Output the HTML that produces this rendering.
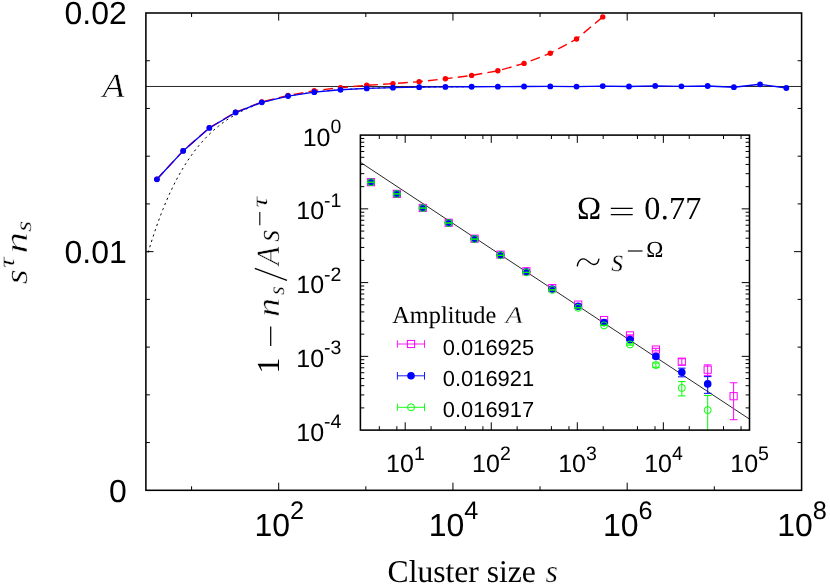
<!DOCTYPE html>
<html><head><meta charset="utf-8"><title>Chart</title>
<style>html,body{margin:0;padding:0;background:#fff;}body{width:830px;height:586px;position:relative;overflow:hidden;font-family:"Liberation Sans",sans-serif;}</style>
</head><body>
<svg width="830" height="586" viewBox="0 0 830 586" style="position:absolute;left:0;top:0;will-change:transform;text-rendering:geometricPrecision">
<defs><clipPath id="cm"><rect x="145.9" y="13.0" width="655.7" height="477.3"/></clipPath>
<clipPath id="ci"><rect x="360.4" y="135.1" width="389.1" height="295.0"/></clipPath></defs>
<rect x="0" y="0" width="830" height="586" fill="#fff"/>
<line x1="145.9" y1="86.48" x2="801.6" y2="86.48" stroke="#000" stroke-width="0.85"/>
<polyline points="148.11,252.58 149.75,247.15 151.38,241.90 153.01,236.82 154.65,231.90 156.28,227.15 157.91,222.55 159.55,218.10 161.18,213.80 162.81,209.64 164.44,205.61 166.08,201.71 167.71,197.95 169.34,194.30 170.98,190.78 172.61,187.37 174.24,184.07 175.88,180.88 177.51,177.79 179.14,174.81 180.78,171.92 182.41,169.13 184.04,166.43 185.68,163.81 187.31,161.28 188.94,158.84 190.58,156.47 192.21,154.18 193.84,151.97 195.48,149.83 197.11,147.76 198.74,145.76 200.38,143.82 202.01,141.94 203.64,140.13 205.28,138.38 206.91,136.68 208.54,135.04 210.18,133.45 211.81,131.92 213.44,130.43 215.08,128.99 216.71,127.60 218.34,126.26 219.98,124.96 221.61,123.70 223.24,122.48 224.88,121.31 226.51,120.17 228.14,119.07 229.78,118.00 231.41,116.97 233.04,115.97 234.68,115.01 236.31,114.08 237.94,113.17 239.58,112.30 241.21,111.46 242.84,110.64 244.48,109.85 246.11,109.09 247.74,108.35 249.37,107.63 251.01,106.94 252.64,106.27 254.27,105.63 255.91,105.00 257.54,104.39 259.17,103.81 260.81,103.24 262.44,102.69 264.07,102.16 265.71,101.65 267.34,101.16 268.97,100.68 270.61,100.21 272.24,99.76 273.87,99.33 275.51,98.91 277.14,98.50 278.77,98.11 280.41,97.73 282.04,97.36 283.67,97.01 285.31,96.66 286.94,96.33 288.57,96.01 290.21,95.70 291.84,95.39 293.47,95.10 295.11,94.82 296.74,94.55 298.37,94.28 300.01,94.03 301.64,93.78 303.27,93.54 304.91,93.31 306.54,93.09 308.17,92.87 309.81,92.66 311.44,92.46 313.07,92.27 314.71,92.08 316.34,91.89 317.97,91.72 319.61,91.55 321.24,91.38 322.87,91.22 324.51,91.07 326.14,90.92 327.77,90.77 329.41,90.63 331.04,90.49 332.67,90.36 334.30,90.24 335.94,90.11 337.57,89.99 339.20,89.88 340.84,89.77 342.47,89.66 344.10,89.56 345.74,89.46 347.37,89.36 349.00,89.27 350.64,89.17 352.27,89.09 353.90,89.00 355.54,88.92 357.17,88.84 358.80,88.76 360.44,88.69 362.07,88.61 363.70,88.55 365.34,88.48 366.97,88.41 368.60,88.35 370.24,88.29 371.87,88.23 373.50,88.17 375.14,88.12 376.77,88.06 378.40,88.01 380.04,87.96 381.67,87.91 383.30,87.87 384.94,87.82 386.57,87.78 388.20,87.73 389.84,87.69 391.47,87.65 393.10,87.62 394.74,87.58 396.37,87.54 398.00,87.51 399.64,87.47 401.27,87.44 402.90,87.41 404.54,87.38 406.17,87.35 407.80,87.32 409.44,87.29 411.07,87.27 412.70,87.24 414.34,87.22 415.97,87.19 417.60,87.17 419.23,87.15 420.87,87.13 422.50,87.10 424.13,87.08 425.77,87.06 427.40,87.05 429.03,87.03 430.67,87.01 432.30,86.99 433.93,86.97 435.57,86.96 437.20,86.94 438.83,86.93 440.47,86.91 442.10,86.90 443.73,86.89 445.37,86.87 447.00,86.86 448.63,86.85 450.27,86.83 451.90,86.82 453.53,86.81 455.17,86.80 456.80,86.79 458.43,86.78 460.07,86.77 461.70,86.76 463.33,86.75 464.97,86.74 466.60,86.73 468.23,86.73 469.87,86.72 471.50,86.71 473.13,86.70 474.77,86.70" fill="none" stroke="#000" stroke-width="1" stroke-dasharray="2.2,3.4" clip-path="url(#cm)"/>
<polyline points="156.91,179.18 183.14,150.78 209.36,127.80 235.59,112.27 261.81,101.93 288.04,95.49 314.27,90.60 340.49,87.70 366.72,85.30 392.94,83.60 419.17,81.70 445.39,78.80 471.62,75.40 497.85,70.80 524.07,63.40 550.30,53.30 576.52,39.00 602.75,16.90" fill="none" stroke="#f00" stroke-width="1.4" stroke-dasharray="9.8,5.2" clip-path="url(#cm)"/>
<circle cx="156.91" cy="179.18" r="2.7" fill="#f00"/>
<circle cx="183.14" cy="150.78" r="2.7" fill="#f00"/>
<circle cx="209.36" cy="127.80" r="2.7" fill="#f00"/>
<circle cx="235.59" cy="112.27" r="2.7" fill="#f00"/>
<circle cx="261.81" cy="101.93" r="2.7" fill="#f00"/>
<circle cx="288.04" cy="95.49" r="2.7" fill="#f00"/>
<circle cx="314.27" cy="90.60" r="2.7" fill="#f00"/>
<circle cx="340.49" cy="87.70" r="2.7" fill="#f00"/>
<circle cx="366.72" cy="85.30" r="2.7" fill="#f00"/>
<circle cx="392.94" cy="83.60" r="2.7" fill="#f00"/>
<circle cx="419.17" cy="81.70" r="2.7" fill="#f00"/>
<circle cx="445.39" cy="78.80" r="2.7" fill="#f00"/>
<circle cx="471.62" cy="75.40" r="2.7" fill="#f00"/>
<circle cx="497.85" cy="70.80" r="2.7" fill="#f00"/>
<circle cx="524.07" cy="63.40" r="2.7" fill="#f00"/>
<circle cx="550.30" cy="53.30" r="2.7" fill="#f00"/>
<circle cx="576.52" cy="39.00" r="2.7" fill="#f00"/>
<circle cx="602.75" cy="16.90" r="2.7" fill="#f00"/>
<polyline points="156.91,179.28 183.14,150.88 209.36,127.95 235.59,112.52 261.81,102.28 288.04,96.04 314.27,92.14 340.49,89.79 366.72,88.41 392.94,87.64 419.17,87.16 445.39,86.88 471.62,86.73 497.85,86.65 524.07,86.50 550.30,86.40 576.52,86.60 602.75,86.10 628.97,86.50 655.20,85.90 681.43,86.30 707.65,86.00 733.88,87.20 760.10,84.30 786.33,88.00" fill="none" stroke="#00f" stroke-width="1.35"/>
<circle cx="156.91" cy="179.28" r="2.9" fill="#00f"/>
<circle cx="183.14" cy="150.88" r="2.9" fill="#00f"/>
<circle cx="209.36" cy="127.95" r="2.9" fill="#00f"/>
<circle cx="235.59" cy="112.52" r="2.9" fill="#00f"/>
<circle cx="261.81" cy="102.28" r="2.9" fill="#00f"/>
<circle cx="288.04" cy="96.04" r="2.9" fill="#00f"/>
<circle cx="314.27" cy="92.14" r="2.9" fill="#00f"/>
<circle cx="340.49" cy="89.79" r="2.9" fill="#00f"/>
<circle cx="366.72" cy="88.41" r="2.9" fill="#00f"/>
<circle cx="392.94" cy="87.64" r="2.9" fill="#00f"/>
<circle cx="419.17" cy="87.16" r="2.9" fill="#00f"/>
<circle cx="445.39" cy="86.88" r="2.9" fill="#00f"/>
<circle cx="471.62" cy="86.73" r="2.9" fill="#00f"/>
<circle cx="497.85" cy="86.65" r="2.9" fill="#00f"/>
<circle cx="524.07" cy="86.50" r="2.9" fill="#00f"/>
<circle cx="550.30" cy="86.40" r="2.9" fill="#00f"/>
<circle cx="576.52" cy="86.60" r="2.9" fill="#00f"/>
<circle cx="602.75" cy="86.10" r="2.9" fill="#00f"/>
<circle cx="628.97" cy="86.50" r="2.9" fill="#00f"/>
<circle cx="655.20" cy="85.90" r="2.9" fill="#00f"/>
<circle cx="681.43" cy="86.30" r="2.9" fill="#00f"/>
<circle cx="707.65" cy="86.00" r="2.9" fill="#00f"/>
<circle cx="733.88" cy="87.20" r="2.9" fill="#00f"/>
<circle cx="760.10" cy="84.30" r="2.9" fill="#00f"/>
<circle cx="786.33" cy="88.00" r="2.9" fill="#00f"/>
<path d="M191.58 490.30v-4.00M191.58 13.00v4.00M278.70 490.30v-7.60M278.70 13.00v7.60M365.82 490.30v-4.00M365.82 13.00v4.00M452.94 490.30v-7.60M452.94 13.00v7.60M540.06 490.30v-4.00M540.06 13.00v4.00M627.18 490.30v-7.60M627.18 13.00v7.60M714.30 490.30v-4.00M714.30 13.00v4.00M145.90 442.57h4.00M801.60 442.57h-4.00M145.90 394.84h4.00M801.60 394.84h-4.00M145.90 347.11h4.00M801.60 347.11h-4.00M145.90 299.38h4.00M801.60 299.38h-4.00M145.90 251.65h7.60M801.60 251.65h-7.60M145.90 203.92h4.00M801.60 203.92h-4.00M145.90 156.19h4.00M801.60 156.19h-4.00M145.90 108.46h4.00M801.60 108.46h-4.00M145.90 60.73h4.00M801.60 60.73h-4.00" stroke="#000" stroke-width="1.0" fill="none"/>
<rect x="145.90" y="13.00" width="655.70" height="477.30" fill="none" stroke="#000" stroke-width="1.55"/>
<rect x="360.40" y="135.10" width="389.10" height="295.00" fill="#fff"/>
<line x1="360.21" y1="162.19" x2="749.40" y2="419.04" stroke="#000" stroke-width="0.85" clip-path="url(#ci)"/>
<g clip-path="url(#ci)" stroke="#ff00ff" stroke-width="1" fill="none"><path d="M370.96 182.17V182.17M367.16 182.17h7.6M367.16 182.17h7.6"/></g>
<rect x="367.36" y="178.57" width="7.2" height="7.2" fill="none" stroke="#ff00ff" stroke-width="1"/>
<g clip-path="url(#ci)" stroke="#ff00ff" stroke-width="1" fill="none"><path d="M396.86 193.85V193.85M393.06 193.85h7.6M393.06 193.85h7.6"/></g>
<rect x="393.26" y="190.25" width="7.2" height="7.2" fill="none" stroke="#ff00ff" stroke-width="1"/>
<g clip-path="url(#ci)" stroke="#ff00ff" stroke-width="1" fill="none"><path d="M422.76 207.93V207.93M418.96 207.93h7.6M418.96 207.93h7.6"/></g>
<rect x="419.16" y="204.33" width="7.2" height="7.2" fill="none" stroke="#ff00ff" stroke-width="1"/>
<g clip-path="url(#ci)" stroke="#ff00ff" stroke-width="1" fill="none"><path d="M448.67 222.78V222.78M444.87 222.78h7.6M444.87 222.78h7.6"/></g>
<rect x="445.07" y="219.18" width="7.2" height="7.2" fill="none" stroke="#ff00ff" stroke-width="1"/>
<g clip-path="url(#ci)" stroke="#ff00ff" stroke-width="1" fill="none"><path d="M474.57 238.71V238.71M470.77 238.71h7.6M470.77 238.71h7.6"/></g>
<rect x="470.97" y="235.11" width="7.2" height="7.2" fill="none" stroke="#ff00ff" stroke-width="1"/>
<g clip-path="url(#ci)" stroke="#ff00ff" stroke-width="1" fill="none"><path d="M500.48 254.68V254.68M496.68 254.68h7.6M496.68 254.68h7.6"/></g>
<rect x="496.88" y="251.08" width="7.2" height="7.2" fill="none" stroke="#ff00ff" stroke-width="1"/>
<g clip-path="url(#ci)" stroke="#ff00ff" stroke-width="1" fill="none"><path d="M526.38 271.26V271.26M522.58 271.26h7.6M522.58 271.26h7.6"/></g>
<rect x="522.78" y="267.66" width="7.2" height="7.2" fill="none" stroke="#ff00ff" stroke-width="1"/>
<g clip-path="url(#ci)" stroke="#ff00ff" stroke-width="1" fill="none"><path d="M552.28 288.09V288.09M548.48 288.09h7.6M548.48 288.09h7.6"/></g>
<rect x="548.68" y="284.49" width="7.2" height="7.2" fill="none" stroke="#ff00ff" stroke-width="1"/>
<g clip-path="url(#ci)" stroke="#ff00ff" stroke-width="1" fill="none"><path d="M578.19 304.59V304.72M574.39 304.59h7.6M574.39 304.72h7.6"/></g>
<rect x="574.59" y="301.06" width="7.2" height="7.2" fill="none" stroke="#ff00ff" stroke-width="1"/>
<g clip-path="url(#ci)" stroke="#ff00ff" stroke-width="1" fill="none"><path d="M604.09 319.88V320.25M600.29 319.88h7.6M600.29 320.25h7.6"/></g>
<rect x="600.49" y="316.46" width="7.2" height="7.2" fill="none" stroke="#ff00ff" stroke-width="1"/>
<g clip-path="url(#ci)" stroke="#ff00ff" stroke-width="1" fill="none"><path d="M629.99 334.90V335.90M626.19 334.90h7.6M626.19 335.90h7.6"/></g>
<rect x="626.39" y="331.80" width="7.2" height="7.2" fill="none" stroke="#ff00ff" stroke-width="1"/>
<g clip-path="url(#ci)" stroke="#ff00ff" stroke-width="1" fill="none"><path d="M655.90 348.32V350.92M652.10 348.32h7.6M652.10 350.92h7.6"/></g>
<rect x="652.30" y="345.99" width="7.2" height="7.2" fill="none" stroke="#ff00ff" stroke-width="1"/>
<g clip-path="url(#ci)" stroke="#ff00ff" stroke-width="1" fill="none"><path d="M681.80 358.74V364.97M678.00 358.74h7.6M678.00 364.97h7.6"/></g>
<rect x="678.20" y="358.10" width="7.2" height="7.2" fill="none" stroke="#ff00ff" stroke-width="1"/>
<g clip-path="url(#ci)" stroke="#ff00ff" stroke-width="1" fill="none"><path d="M707.70 364.83V375.41M703.90 364.83h7.6M703.90 375.41h7.6"/></g>
<rect x="704.10" y="366.08" width="7.2" height="7.2" fill="none" stroke="#ff00ff" stroke-width="1"/>
<g clip-path="url(#ci)" stroke="#ff00ff" stroke-width="1" fill="none"><path d="M733.61 382.78V419.74M729.81 382.78h7.6M729.81 419.74h7.6"/></g>
<rect x="730.01" y="392.60" width="7.2" height="7.2" fill="none" stroke="#ff00ff" stroke-width="1"/>
<g clip-path="url(#ci)" stroke="#0000ff" stroke-width="1" fill="none"><path d="M370.96 182.20V182.20M367.16 182.20h7.6M367.16 182.20h7.6"/></g>
<circle cx="370.96" cy="182.20" r="3.8" fill="#0000ff"/>
<g clip-path="url(#ci)" stroke="#0000ff" stroke-width="1" fill="none"><path d="M396.86 193.90V193.90M393.06 193.90h7.6M393.06 193.90h7.6"/></g>
<circle cx="396.86" cy="193.90" r="3.8" fill="#0000ff"/>
<g clip-path="url(#ci)" stroke="#0000ff" stroke-width="1" fill="none"><path d="M422.76 208.00V208.00M418.96 208.00h7.6M418.96 208.00h7.6"/></g>
<circle cx="422.76" cy="208.00" r="3.8" fill="#0000ff"/>
<g clip-path="url(#ci)" stroke="#0000ff" stroke-width="1" fill="none"><path d="M448.67 222.90V222.90M444.87 222.90h7.6M444.87 222.90h7.6"/></g>
<circle cx="448.67" cy="222.90" r="3.8" fill="#0000ff"/>
<g clip-path="url(#ci)" stroke="#0000ff" stroke-width="1" fill="none"><path d="M474.57 238.90V238.90M470.77 238.90h7.6M470.77 238.90h7.6"/></g>
<circle cx="474.57" cy="238.90" r="3.8" fill="#0000ff"/>
<g clip-path="url(#ci)" stroke="#0000ff" stroke-width="1" fill="none"><path d="M500.48 255.00V255.00M496.68 255.00h7.6M496.68 255.00h7.6"/></g>
<circle cx="500.48" cy="255.00" r="3.8" fill="#0000ff"/>
<g clip-path="url(#ci)" stroke="#0000ff" stroke-width="1" fill="none"><path d="M526.38 271.80V271.80M522.58 271.80h7.6M522.58 271.80h7.6"/></g>
<circle cx="526.38" cy="271.80" r="3.8" fill="#0000ff"/>
<g clip-path="url(#ci)" stroke="#0000ff" stroke-width="1" fill="none"><path d="M552.28 289.00V289.00M548.48 289.00h7.6M548.48 289.00h7.6"/></g>
<circle cx="552.28" cy="289.00" r="3.8" fill="#0000ff"/>
<g clip-path="url(#ci)" stroke="#0000ff" stroke-width="1" fill="none"><path d="M578.19 306.13V306.27M574.39 306.13h7.6M574.39 306.27h7.6"/></g>
<circle cx="578.19" cy="306.20" r="3.8" fill="#0000ff"/>
<g clip-path="url(#ci)" stroke="#0000ff" stroke-width="1" fill="none"><path d="M604.09 322.40V322.80M600.29 322.40h7.6M600.29 322.80h7.6"/></g>
<circle cx="604.09" cy="322.60" r="3.8" fill="#0000ff"/>
<g clip-path="url(#ci)" stroke="#0000ff" stroke-width="1" fill="none"><path d="M629.99 339.04V340.17M626.19 339.04h7.6M626.19 340.17h7.6"/></g>
<circle cx="629.99" cy="339.60" r="3.8" fill="#0000ff"/>
<g clip-path="url(#ci)" stroke="#0000ff" stroke-width="1" fill="none"><path d="M655.90 354.83V358.05M652.10 354.83h7.6M652.10 358.05h7.6"/></g>
<circle cx="655.90" cy="356.40" r="3.8" fill="#0000ff"/>
<g clip-path="url(#ci)" stroke="#0000ff" stroke-width="1" fill="none"><path d="M681.80 368.16V376.83M678.00 368.16h7.6M678.00 376.83h7.6"/></g>
<circle cx="681.80" cy="372.20" r="3.8" fill="#0000ff"/>
<g clip-path="url(#ci)" stroke="#0000ff" stroke-width="1" fill="none"><path d="M707.70 376.62V393.34M703.90 376.62h7.6M703.90 393.34h7.6"/></g>
<circle cx="707.70" cy="383.90" r="3.8" fill="#0000ff"/>
<g clip-path="url(#ci)" stroke="#00ff00" stroke-width="1" fill="none"><path d="M370.96 182.23V182.23M367.16 182.23h7.6M367.16 182.23h7.6"/></g>
<circle cx="370.96" cy="182.23" r="3.5" fill="none" stroke="#00ff00" stroke-width="1"/>
<g clip-path="url(#ci)" stroke="#00ff00" stroke-width="1" fill="none"><path d="M396.86 193.95V193.95M393.06 193.95h7.6M393.06 193.95h7.6"/></g>
<circle cx="396.86" cy="193.95" r="3.5" fill="none" stroke="#00ff00" stroke-width="1"/>
<g clip-path="url(#ci)" stroke="#00ff00" stroke-width="1" fill="none"><path d="M422.76 208.07V208.07M418.96 208.07h7.6M418.96 208.07h7.6"/></g>
<circle cx="422.76" cy="208.07" r="3.5" fill="none" stroke="#00ff00" stroke-width="1"/>
<g clip-path="url(#ci)" stroke="#00ff00" stroke-width="1" fill="none"><path d="M448.67 223.02V223.02M444.87 223.02h7.6M444.87 223.02h7.6"/></g>
<circle cx="448.67" cy="223.02" r="3.5" fill="none" stroke="#00ff00" stroke-width="1"/>
<g clip-path="url(#ci)" stroke="#00ff00" stroke-width="1" fill="none"><path d="M474.57 239.09V239.09M470.77 239.09h7.6M470.77 239.09h7.6"/></g>
<circle cx="474.57" cy="239.09" r="3.5" fill="none" stroke="#00ff00" stroke-width="1"/>
<g clip-path="url(#ci)" stroke="#00ff00" stroke-width="1" fill="none"><path d="M500.48 255.32V255.32M496.68 255.32h7.6M496.68 255.32h7.6"/></g>
<circle cx="500.48" cy="255.32" r="3.5" fill="none" stroke="#00ff00" stroke-width="1"/>
<g clip-path="url(#ci)" stroke="#00ff00" stroke-width="1" fill="none"><path d="M526.38 272.35V272.35M522.58 272.35h7.6M522.58 272.35h7.6"/></g>
<circle cx="526.38" cy="272.35" r="3.5" fill="none" stroke="#00ff00" stroke-width="1"/>
<g clip-path="url(#ci)" stroke="#00ff00" stroke-width="1" fill="none"><path d="M552.28 289.94V289.94M548.48 289.94h7.6M548.48 289.94h7.6"/></g>
<circle cx="552.28" cy="289.94" r="3.5" fill="none" stroke="#00ff00" stroke-width="1"/>
<g clip-path="url(#ci)" stroke="#00ff00" stroke-width="1" fill="none"><path d="M578.19 307.75V307.89M574.39 307.75h7.6M574.39 307.89h7.6"/></g>
<circle cx="578.19" cy="307.82" r="3.5" fill="none" stroke="#00ff00" stroke-width="1"/>
<g clip-path="url(#ci)" stroke="#00ff00" stroke-width="1" fill="none"><path d="M604.09 325.14V325.57M600.29 325.14h7.6M600.29 325.57h7.6"/></g>
<circle cx="604.09" cy="325.35" r="3.5" fill="none" stroke="#00ff00" stroke-width="1"/>
<g clip-path="url(#ci)" stroke="#00ff00" stroke-width="1" fill="none"><path d="M629.99 343.78V345.10M626.19 343.78h7.6M626.19 345.10h7.6"/></g>
<circle cx="629.99" cy="344.44" r="3.5" fill="none" stroke="#00ff00" stroke-width="1"/>
<g clip-path="url(#ci)" stroke="#00ff00" stroke-width="1" fill="none"><path d="M655.90 363.02V367.23M652.10 363.02h7.6M652.10 367.23h7.6"/></g>
<circle cx="655.90" cy="365.05" r="3.5" fill="none" stroke="#00ff00" stroke-width="1"/>
<g clip-path="url(#ci)" stroke="#00ff00" stroke-width="1" fill="none"><path d="M681.80 381.55V395.86M678.00 381.55h7.6M678.00 395.86h7.6"/></g>
<circle cx="681.80" cy="387.91" r="3.5" fill="none" stroke="#00ff00" stroke-width="1"/>
<g clip-path="url(#ci)" stroke="#00ff00" stroke-width="1" fill="none"><path d="M707.70 395.48V437.77M703.90 395.48h7.6M703.90 437.77h7.6"/></g>
<circle cx="707.70" cy="410.10" r="3.5" fill="none" stroke="#00ff00" stroke-width="1"/>
<path d="M379.30 430.10v-3.90M379.30 135.10v3.90M396.86 430.10v-3.90M396.86 135.10v3.90M405.20 430.10v-7.80M405.20 135.10v7.80M431.10 430.10v-3.90M431.10 135.10v3.90M465.35 430.10v-3.90M465.35 135.10v3.90M482.91 430.10v-3.90M482.91 135.10v3.90M491.25 430.10v-7.80M491.25 135.10v7.80M517.15 430.10v-3.90M517.15 135.10v3.90M551.40 430.10v-3.90M551.40 135.10v3.90M568.96 430.10v-3.90M568.96 135.10v3.90M577.30 430.10v-7.80M577.30 135.10v7.80M603.20 430.10v-3.90M603.20 135.10v3.90M637.45 430.10v-3.90M637.45 135.10v3.90M655.01 430.10v-3.90M655.01 135.10v3.90M663.35 430.10v-7.80M663.35 135.10v7.80M689.25 430.10v-3.90M689.25 135.10v3.90M723.50 430.10v-3.90M723.50 135.10v3.90M741.06 430.10v-3.90M741.06 135.10v3.90M360.40 407.90h3.90M749.50 407.90h-3.90M360.40 394.91h3.90M749.50 394.91h-3.90M360.40 385.70h3.90M749.50 385.70h-3.90M360.40 378.55h3.90M749.50 378.55h-3.90M360.40 372.71h3.90M749.50 372.71h-3.90M360.40 367.77h3.90M749.50 367.77h-3.90M360.40 363.50h3.90M749.50 363.50h-3.90M360.40 359.72h3.90M749.50 359.72h-3.90M360.40 356.35h7.80M749.50 356.35h-7.80M360.40 334.15h3.90M749.50 334.15h-3.90M360.40 321.16h3.90M749.50 321.16h-3.90M360.40 311.95h3.90M749.50 311.95h-3.90M360.40 304.80h3.90M749.50 304.80h-3.90M360.40 298.96h3.90M749.50 298.96h-3.90M360.40 294.02h3.90M749.50 294.02h-3.90M360.40 289.75h3.90M749.50 289.75h-3.90M360.40 285.97h3.90M749.50 285.97h-3.90M360.40 282.60h7.80M749.50 282.60h-7.80M360.40 260.40h3.90M749.50 260.40h-3.90M360.40 247.41h3.90M749.50 247.41h-3.90M360.40 238.20h3.90M749.50 238.20h-3.90M360.40 231.05h3.90M749.50 231.05h-3.90M360.40 225.21h3.90M749.50 225.21h-3.90M360.40 220.27h3.90M749.50 220.27h-3.90M360.40 216.00h3.90M749.50 216.00h-3.90M360.40 212.22h3.90M749.50 212.22h-3.90M360.40 208.85h7.80M749.50 208.85h-7.80M360.40 186.65h3.90M749.50 186.65h-3.90M360.40 173.66h3.90M749.50 173.66h-3.90M360.40 164.45h3.90M749.50 164.45h-3.90M360.40 157.30h3.90M749.50 157.30h-3.90M360.40 151.46h3.90M749.50 151.46h-3.90M360.40 146.52h3.90M749.50 146.52h-3.90M360.40 142.25h3.90M749.50 142.25h-3.90M360.40 138.47h3.90M749.50 138.47h-3.90" stroke="#000" stroke-width="1.0" fill="none"/>
<rect x="360.40" y="135.10" width="389.10" height="295.00" fill="none" stroke="#000" stroke-width="1.55"/>
<path d="M397.4 344.00H424.5M397.4 340.20v7.6M424.5 340.20v7.6" stroke="#ff00ff" stroke-width="0.9" fill="none"/>
<rect x="407.40" y="340.40" width="7.2" height="7.2" fill="#fff" fill-opacity="0" stroke="#ff00ff" stroke-width="1"/>
<path d="M397.4 375.80H424.5M397.4 372.00v7.6M424.5 372.00v7.6" stroke="#0000ff" stroke-width="0.9" fill="none"/>
<circle cx="411.00" cy="375.80" r="3.8" fill="#0000ff"/>
<path d="M397.4 407.30H424.5M397.4 403.50v7.6M424.5 403.50v7.6" stroke="#00ff00" stroke-width="0.9" fill="none"/>
<circle cx="411.00" cy="407.30" r="3.5" fill="none" stroke="#00ff00" stroke-width="1"/>
<text x="126.80" y="23.80" font-size="32.00" font-family="Liberation Sans, sans-serif" text-anchor="end" >0.02</text>
<text x="126.80" y="262.60" font-size="32.00" font-family="Liberation Sans, sans-serif" text-anchor="end" >0.01</text>
<text x="126.80" y="501.80" font-size="32.00" font-family="Liberation Sans, sans-serif" text-anchor="end" >0</text>
<text x="279.30" y="535.90" font-size="32.00" font-family="Liberation Sans, sans-serif" text-anchor="middle" >10<tspan dy="-16.6" font-size="25.3">2</tspan></text>
<text x="453.54" y="535.90" font-size="32.00" font-family="Liberation Sans, sans-serif" text-anchor="middle" >10<tspan dy="-16.6" font-size="25.3">4</tspan></text>
<text x="627.78" y="535.90" font-size="32.00" font-family="Liberation Sans, sans-serif" text-anchor="middle" >10<tspan dy="-16.6" font-size="25.3">6</tspan></text>
<text x="802.02" y="535.90" font-size="32.00" font-family="Liberation Sans, sans-serif" text-anchor="middle" >10<tspan dy="-16.6" font-size="25.3">8</tspan></text>
<text x="405.40" y="472.00" font-size="25.00" font-family="Liberation Sans, sans-serif" text-anchor="middle" >10<tspan dy="-12.5" font-size="19.5">1</tspan></text>
<text x="491.45" y="472.00" font-size="25.00" font-family="Liberation Sans, sans-serif" text-anchor="middle" >10<tspan dy="-12.5" font-size="19.5">2</tspan></text>
<text x="577.50" y="472.00" font-size="25.00" font-family="Liberation Sans, sans-serif" text-anchor="middle" >10<tspan dy="-12.5" font-size="19.5">3</tspan></text>
<text x="663.55" y="472.00" font-size="25.00" font-family="Liberation Sans, sans-serif" text-anchor="middle" >10<tspan dy="-12.5" font-size="19.5">4</tspan></text>
<text x="749.60" y="472.00" font-size="25.00" font-family="Liberation Sans, sans-serif" text-anchor="middle" >10<tspan dy="-12.5" font-size="19.5">5</tspan></text>
<text x="341.40" y="145.50" font-size="25.00" font-family="Liberation Sans, sans-serif" text-anchor="end" >10<tspan dy="-12.5" font-size="19.5">0</tspan></text>
<text x="341.40" y="219.25" font-size="25.00" font-family="Liberation Sans, sans-serif" text-anchor="end" >10<tspan dy="-12.5" font-size="19.5">-1</tspan></text>
<text x="341.40" y="293.00" font-size="25.00" font-family="Liberation Sans, sans-serif" text-anchor="end" >10<tspan dy="-12.5" font-size="19.5">-2</tspan></text>
<text x="341.40" y="366.75" font-size="25.00" font-family="Liberation Sans, sans-serif" text-anchor="end" >10<tspan dy="-12.5" font-size="19.5">-3</tspan></text>
<text x="341.40" y="440.50" font-size="25.00" font-family="Liberation Sans, sans-serif" text-anchor="end" >10<tspan dy="-12.5" font-size="19.5">-4</tspan></text>
<text x="442.80" y="354.90" font-size="21.90" font-family="Liberation Sans, sans-serif" text-anchor="start" >0.016925</text>
<text x="442.80" y="386.00" font-size="21.90" font-family="Liberation Sans, sans-serif" text-anchor="start" >0.016921</text>
<text x="442.80" y="417.00" font-size="21.90" font-family="Liberation Sans, sans-serif" text-anchor="start" >0.016917</text>
<text x="392.30" y="323.40" font-size="24.30" font-family="Liberation Serif, serif" text-anchor="start" >Amplitude</text>
<text transform="translate(505.6 323.4) scale(1.18 1)" font-size="24" font-family="Liberation Serif, serif" font-style="italic" stroke="#fff" stroke-width="0.35">A</text>
<text x="387.60" y="582.30" font-size="31.60" font-family="Liberation Serif, serif" text-anchor="start" >Cluster size</text>
<text x="545.50" y="582.30" font-size="32.00" font-family="Liberation Serif, serif" text-anchor="start" font-style="italic" stroke="#fff" stroke-width="0.4">s</text>
<text transform="translate(102.4 96.7) scale(1.07 1)" font-size="33.8" font-family="Liberation Serif, serif" font-style="italic" stroke="#fff" stroke-width="0.5">A</text>
<text x="577.00" y="218.50" font-size="32.50" font-family="Liberation Serif, serif" text-anchor="start" >Ω</text>
<path d="M610.8 208.4H632.7M610.8 214.6H632.7" stroke="#000" stroke-width="1.25" fill="none"/>
<text x="644.30" y="218.70" font-size="32.20" font-family="Liberation Serif, serif" text-anchor="start" letter-spacing="0.25">0.77</text>
<path d="M577.3 265.9C578.3 260.6 581.2 258.5 584 258.9C587.6 259.4 590 264.2 593.5 264.5C596.2 264.7 598.2 262.6 598.9 259.1" stroke="#000" stroke-width="1.35" fill="none" stroke-linecap="round"/>
<text x="611.00" y="270.70" font-size="33.00" font-family="Liberation Serif, serif" text-anchor="start" font-style="italic" stroke="#fff" stroke-width="0.5">s</text>
<path d="M627.8 251.0H642.5" stroke="#000" stroke-width="1.15" fill="none"/>
<text x="646.30" y="256.80" font-size="23.00" font-family="Liberation Serif, serif" text-anchor="start" >Ω</text>
<text transform="translate(26.60 284.20) rotate(-90) scale(1.180 1)" font-size="32.50" font-family="Liberation Serif, serif" font-style="italic" stroke="#fff" stroke-width="0.5">s</text>
<text transform="translate(14.30 268.00) rotate(-90) scale(1.320 1)" font-size="22.50" font-family="Liberation Serif, serif" font-style="italic" stroke="#fff" stroke-width="0.3">τ</text>
<text transform="translate(26.60 253.60) rotate(-90) scale(1.330 1)" font-size="32.50" font-family="Liberation Serif, serif" font-style="italic" stroke="#fff" stroke-width="0.5">n</text>
<text transform="translate(30.80 231.80) rotate(-90) scale(1.250 1)" font-size="22.50" font-family="Liberation Serif, serif" font-style="italic" stroke="#fff" stroke-width="0.3">s</text>
<text transform="translate(278.90 373.40) rotate(-90) scale(1.000 1)" font-size="32.00" font-family="Liberation Serif, serif" >1</text>
<path d="M270.7 345.9V326.5" stroke="#000" stroke-width="1.25" fill="none"/>
<text transform="translate(278.90 317.00) rotate(-90) scale(1.170 1)" font-size="32.50" font-family="Liberation Serif, serif" font-style="italic" stroke="#fff" stroke-width="0.5">n</text>
<text transform="translate(283.50 295.00) rotate(-90) scale(1.000 1)" font-size="22.50" font-family="Liberation Serif, serif" font-style="italic" stroke="#fff" stroke-width="0.3">s</text>
<path d="M287.0 280.3L254.8 268.4" stroke="#000" stroke-width="1.25" fill="none"/>
<text transform="translate(278.90 265.30) rotate(-90) scale(0.950 1)" font-size="32.50" font-family="Liberation Serif, serif" font-style="italic" stroke="#fff" stroke-width="0.5">A</text>
<text transform="translate(278.90 242.00) rotate(-90) scale(1.000 1)" font-size="32.50" font-family="Liberation Serif, serif" font-style="italic" stroke="#fff" stroke-width="0.5">s</text>
<path d="M259.8 225.2V211.9" stroke="#000" stroke-width="1.1" fill="none"/>
<text transform="translate(266.60 207.60) rotate(-90) scale(1.300 1)" font-size="22.50" font-family="Liberation Serif, serif" font-style="italic" stroke="#fff" stroke-width="0.3">τ</text>
</svg>
</body></html>
